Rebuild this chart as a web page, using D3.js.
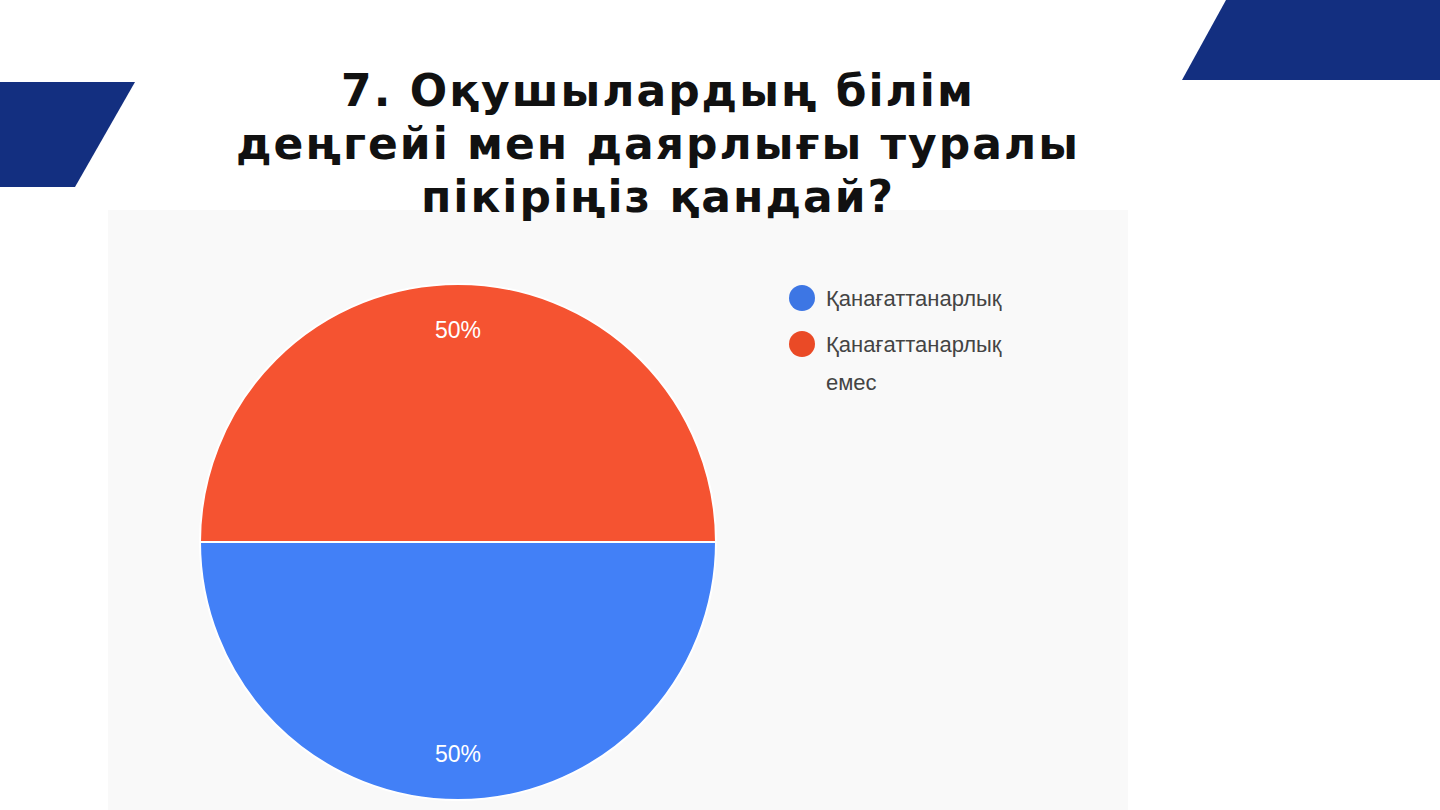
<!DOCTYPE html>
<html><head><meta charset="utf-8">
<script src="https://cdn.jsdelivr.net/npm/d3@7"></script>
<style>body{margin:0;background:#fff}svg{display:block}</style>
</head><body>
<svg id="c" width="1440" height="810"></svg>
<script>
const categories = ["Қанағаттанарлық", "Қанағаттанарлық емес"];
const values = [50, 50];
const colors = ["#4280f7", "#f55331"];
const legendColors = ["#3d76e4", "#ea4a26"];
const titleLines = ["7. Оқушылардың білім", "деңгейі мен даярлығы туралы", "пікіріңіз қандай?"];

const svg = d3.select("#c");
svg.append("rect").attr("x",108).attr("y",210).attr("width",1020).attr("height",600).attr("fill","#f9f9f9");
svg.append("polygon").attr("points","0,82 135,82 75,187 0,187").attr("fill","#132f80");
svg.append("polygon").attr("points","1226,0 1440,0 1440,80 1182,80").attr("fill","#132f80");

const g = svg.append("g").attr("transform","translate(458,542)");
const pie = d3.pie().sort(null).value(d=>d).startAngle(Math.PI/2).endAngle(Math.PI/2+2*Math.PI);
const arc = d3.arc().innerRadius(0).outerRadius(258);
const arcs = pie(values);
g.selectAll("path").data(arcs).join("path").attr("d",arc).attr("fill",(d,i)=>colors[i]).attr("stroke","#fff").attr("stroke-width",2);
const lab = d3.arc().innerRadius(212).outerRadius(212);
g.selectAll("text").data(arcs).join("text")
 .attr("transform",d=>`translate(${lab.centroid(d)})`).attr("text-anchor","middle").attr("dy","0.35em")
 .attr("fill","#fff").attr("font-family","Liberation Sans, Arial").attr("font-size",23)
 .text(d=>d.data+"%");

const leg = svg.append("g").attr("font-family","Liberation Sans, Arial").attr("font-size",22).attr("fill","#444");
const lines = [["Қанағаттанарлық"],["Қанағаттанарлық","емес"]];
lines.forEach((ls,i)=>{
  const y = 298+i*46;
  leg.append("circle").attr("cx",802).attr("cy",y).attr("r",13).attr("fill",legendColors[i]);
  ls.forEach((t,j)=>leg.append("text").attr("x",826).attr("y",y+j*38).attr("dy","0.35em").text(t));
});

svg.selectAll("text.t").data(titleLines).join("text").attr("class","t")
 .attr("x",658).attr("y",(d,i)=>106+i*53).attr("text-anchor","middle")
 .attr("font-family","DejaVu Sans").attr("font-weight","bold").attr("font-size",44).attr("letter-spacing",2)
 .attr("fill","#111").text(d=>d);
</script>
</body></html>
